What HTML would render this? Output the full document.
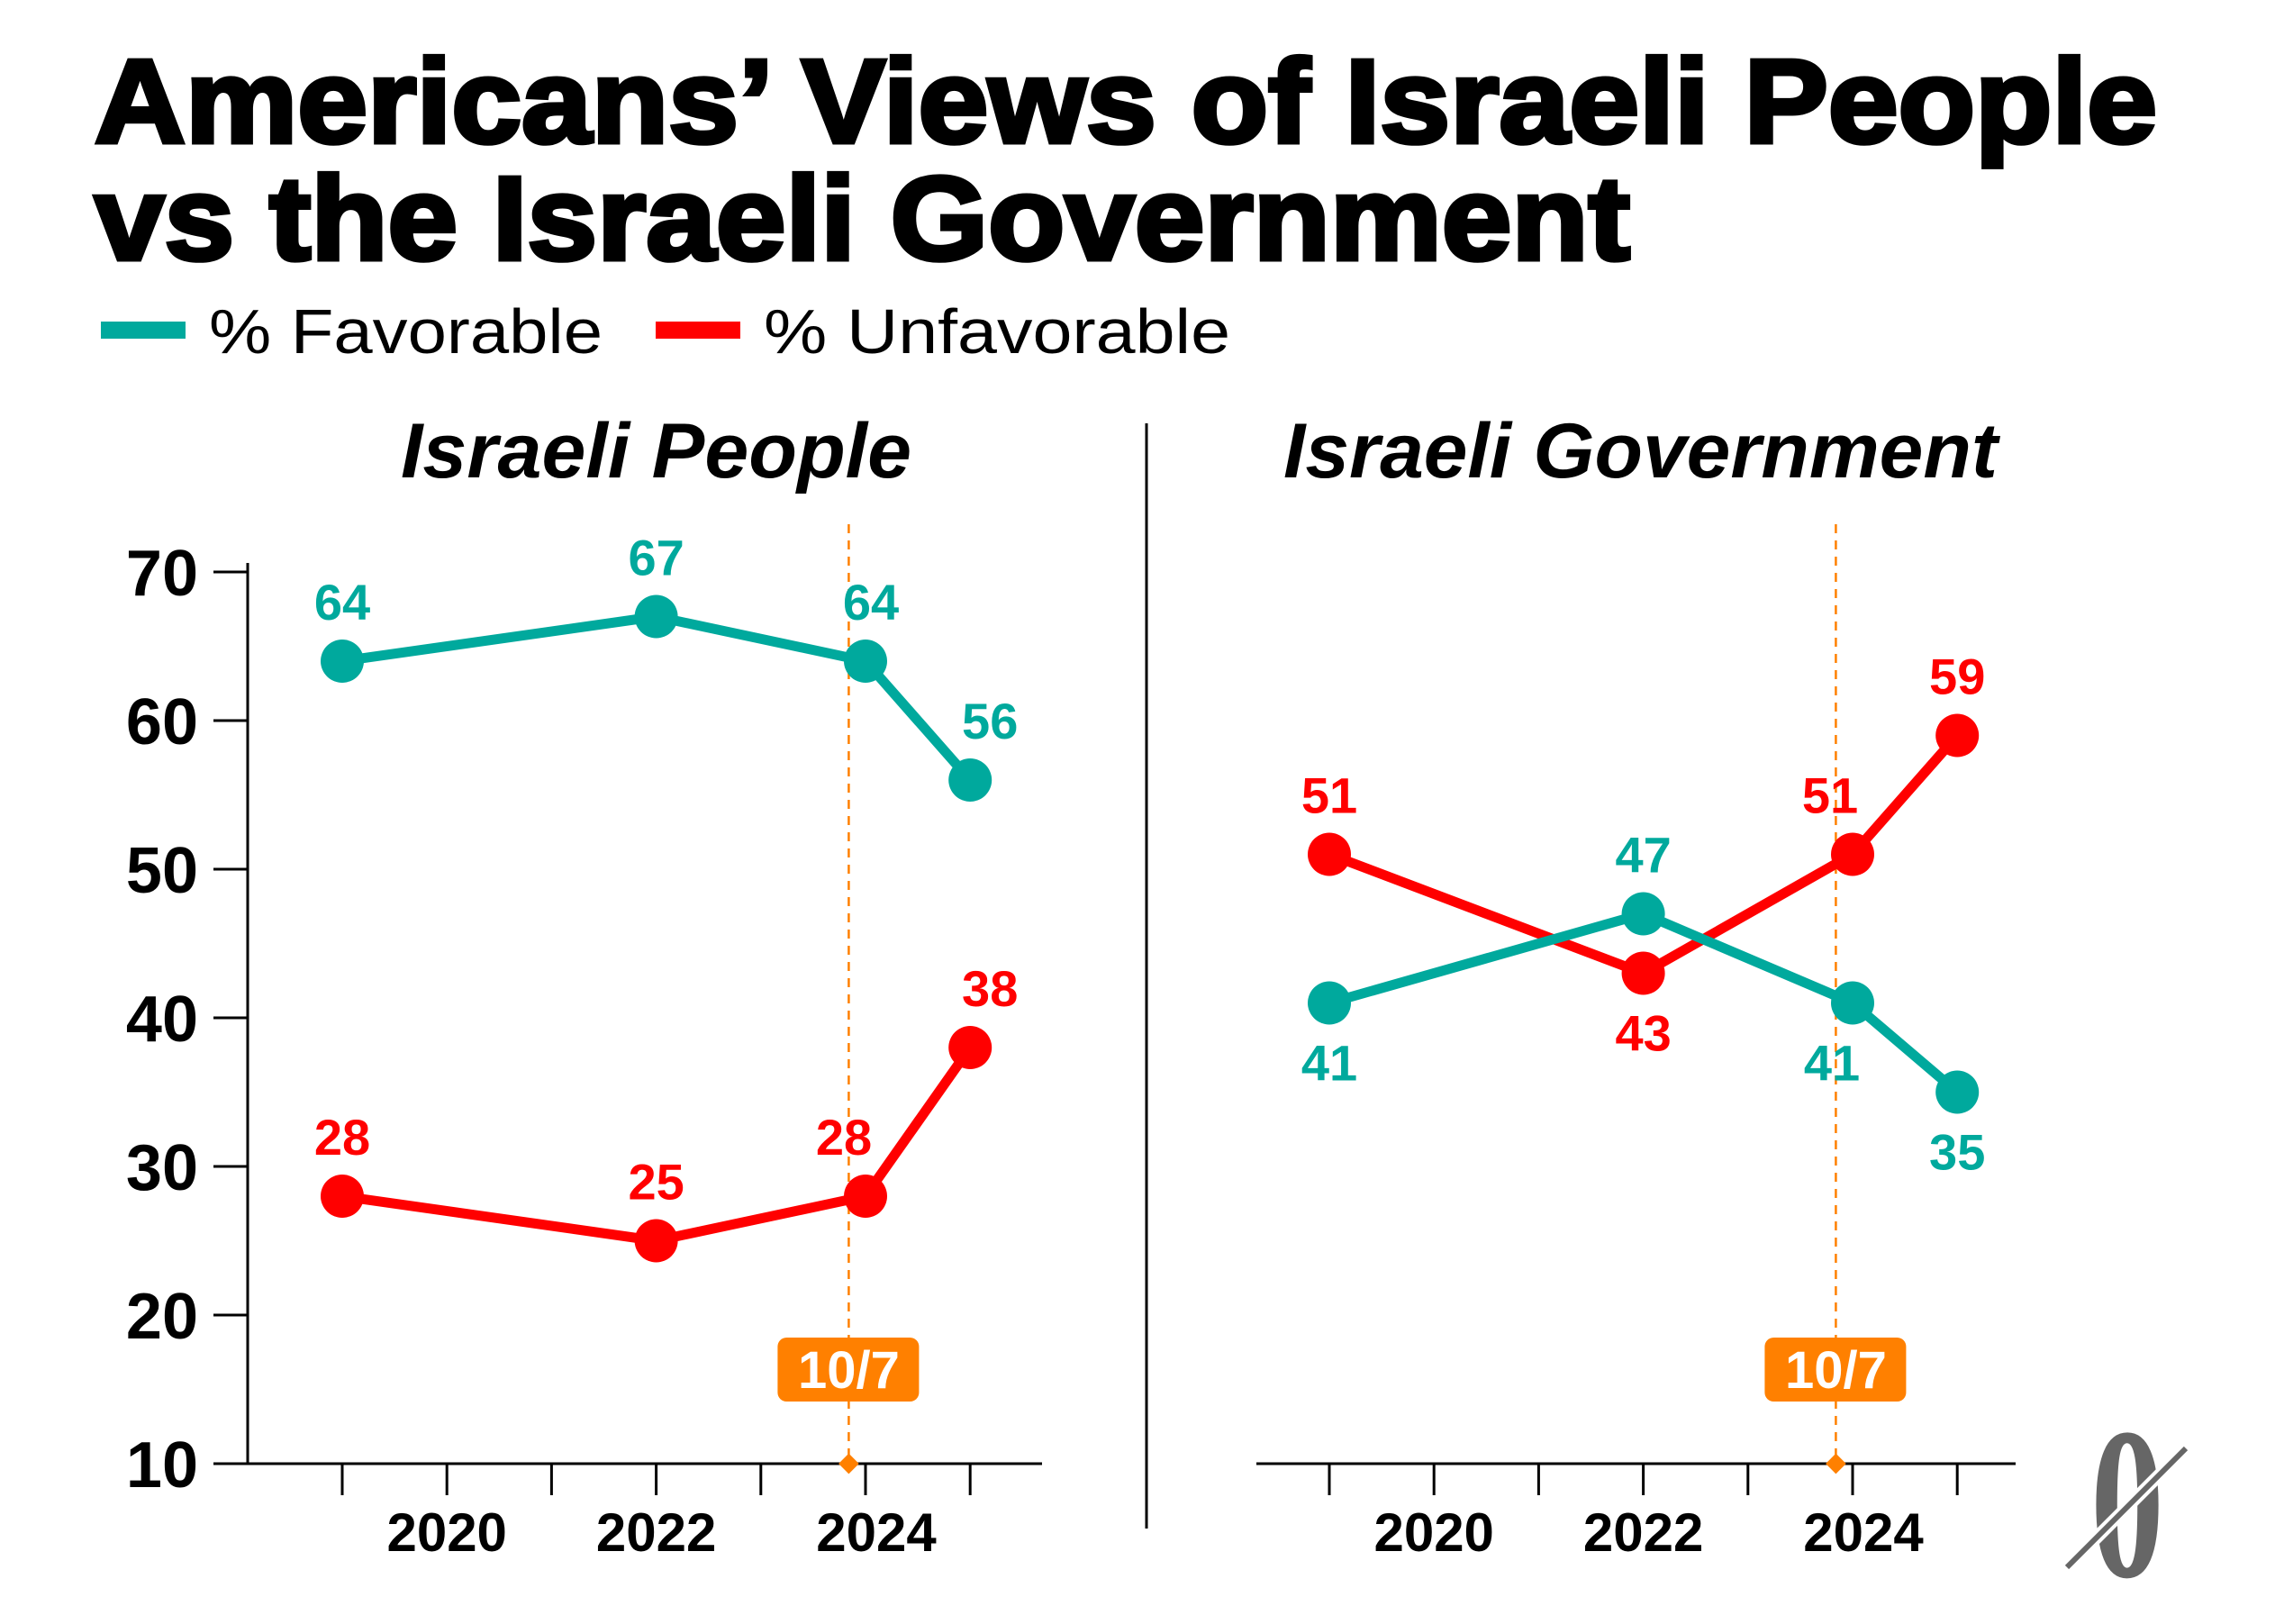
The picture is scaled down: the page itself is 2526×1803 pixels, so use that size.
<!DOCTYPE html>
<html><head><meta charset="utf-8"><style>
html,body{margin:0;padding:0;background:#fff;}
svg{display:block;font-family:"Liberation Sans",sans-serif;}
</style></head><body>
<svg id="chart" width="2526" height="1803" viewBox="0 0 2526 1803" xmlns="http://www.w3.org/2000/svg">
<text x="105" y="158" font-size="132" font-weight="900" textLength="2290" lengthAdjust="spacingAndGlyphs" stroke="#000" stroke-width="5">Americans’ Views of Israeli People</text>
<text x="105" y="288" font-size="132" font-weight="900" textLength="1705" lengthAdjust="spacingAndGlyphs" stroke="#000" stroke-width="5">vs the Israeli Government</text>
<rect x="112" y="357" width="94" height="19" fill="#00a99d"/>
<text x="232" y="392" font-size="70" textLength="437" lengthAdjust="spacingAndGlyphs">% Favorable</text>
<rect x="728" y="357" width="94" height="19" fill="#ff0000"/>
<text x="848" y="392" font-size="70" textLength="518" lengthAdjust="spacingAndGlyphs">% Unfavorable</text>
<text x="445" y="530" font-size="86" font-weight="bold" font-style="italic" textLength="567" lengthAdjust="spacingAndGlyphs">Israeli People</text>
<text x="1425" y="530" font-size="86" font-weight="bold" font-style="italic" textLength="793" lengthAdjust="spacingAndGlyphs">Israeli Government</text>
<line x1="1273" y1="470" x2="1273" y2="1697" stroke="#000" stroke-width="3"/>
<g id="plots"></g>
<g>
<text x="0" y="0" font-size="240" font-family="Liberation Serif, serif" font-weight="bold" fill="#666" text-anchor="middle" transform="translate(2362 1750) scale(0.68 1)">0</text>
<line x1="2295" y1="1740" x2="2427" y2="1608" stroke="#fff" stroke-width="14"/>
<line x1="2295" y1="1740" x2="2427" y2="1608" stroke="#666" stroke-width="6"/>
</g>
</svg>
<script>
const years = [2019, 2022, 2024, 2025];
const peopleFav = [64, 67, 64, 56];
const peopleUnfav = [28, 25, 28, 38];
const govFav = [41, 47, 41, 35];
const govUnfav = [51, 43, 51, 59];
const yTicks = [10, 20, 30, 40, 50, 60, 70];
const yearLabels = [2020, 2022, 2024];
const tickYears = [2019, 2020, 2021, 2022, 2023, 2024, 2025];
const eventYear = 2023.84;

const NS = "http://www.w3.org/2000/svg";
const root = document.getElementById('plots');
const TEAL = "#00a99d", RED = "#ff0000", ORANGE = "#ff8000";
function yS(v){ return 1625 - (v - 10) * 16.5; }
function mk(tag, attrs, parent){
  const e = document.createElementNS(NS, tag);
  for (const k in attrs) e.setAttribute(k, attrs[k]);
  (parent || root).appendChild(e);
  return e;
}
function panel(x0, fav, unfav, favPos, unfavPos, favDx, unfavDx, axisL, axisR, showY, key){
  const xS = y => x0 + (y - 2019) * 116.2;
  const g = mk('g', {});
  
  
  const ax = mk('line', {x1: axisL, y1: 1625, x2: axisR, y2: 1625, stroke: '#000', 'stroke-width': 3}, g);
  
  
  tickYears.forEach(t => {
    const l = mk('line', {x1: xS(t), y1: 1625, x2: xS(t), y2: 1660, stroke: '#000', 'stroke-width': 3}, g);
    
    
  });
  yearLabels.forEach(t => {
    const tx = mk('text', {x: xS(t) + (t === 2024 ? 12 : 0), y: 1722, 'font-size': 60, 'text-anchor': 'middle', 'font-weight': 'bold'}, g);
    tx.textContent = t;
    
    
  });
  if (showY){
    const ya = mk('line', {x1: 275, y1: 625, x2: 275, y2: 1625, stroke: '#000', 'stroke-width': 3}, g);
    
    
    yTicks.forEach(v => {
      const l = mk('line', {x1: 237, y1: yS(v), x2: 275, y2: yS(v), stroke: '#000', 'stroke-width': 3}, g);
      
      
      const tx = mk('text', {x: 220, y: yS(v) + 26, 'font-size': 72, 'text-anchor': 'end', 'font-weight': 'bold'}, g);
      tx.textContent = v;
      
      
    });
  }
  const ex = xS(eventYear);
  const dl = mk('line', {x1: ex, y1: 582, x2: ex, y2: 1625, stroke: ORANGE, 'stroke-width': 2.5, 'stroke-dasharray': '10 8'}, g);
  
  
  const dm = mk('rect', {x: ex - 8, y: 1617, width: 16, height: 16, fill: ORANGE, transform: `rotate(45 ${ex} 1625)`}, g);
  
  
  const bx = mk('rect', {x: ex - 79, y: 1485, width: 157, height: 71, rx: 10, fill: ORANGE}, g);
  
  
  const bt = mk('text', {x: ex, y: 1541, 'font-size': 58, 'font-weight': 'bold', fill: '#fff', 'text-anchor': 'middle'}, g);
  bt.textContent = '10/7';
  
  
  [[unfav, RED, unfavPos, unfavDx, 'unfavorable'], [fav, TEAL, favPos, favDx, 'favorable']].forEach(([vals, col, pos, dx, nm]) => {
    const pts = vals.map((v, i) => xS(years[i]) + ',' + yS(v)).join(' ');
    const pl = mk('polyline', {points: pts, fill: 'none', stroke: col, 'stroke-width': 11, 'stroke-linejoin': 'round'}, g);
    
    
    vals.forEach((v, i) => {
      const c = mk('circle', {cx: xS(years[i]), cy: yS(v), r: 24, fill: col}, g);
      
      
      const t = mk('text', {x: xS(years[i]) + dx[i], y: yS(v) + (pos[i] === 'a' ? -46 : 86), 'font-size': 56, 'font-weight': 'bold', fill: col, 'text-anchor': 'middle'}, g);
      t.textContent = v;
      
      
    });
  });
}
panel(380, peopleFav, peopleUnfav, ['a','a','a','a'], ['a','a','a','a'], [0,0,6,22], [0,0,-24,22], 237, 1157, true, 'people');
panel(1476, govFav, govUnfav, ['b','a','b','b'], ['a','b','a','a'], [0,0,-23,0], [0,0,-25,0], 1395, 2238, false, 'government');
</script>
</body></html>
